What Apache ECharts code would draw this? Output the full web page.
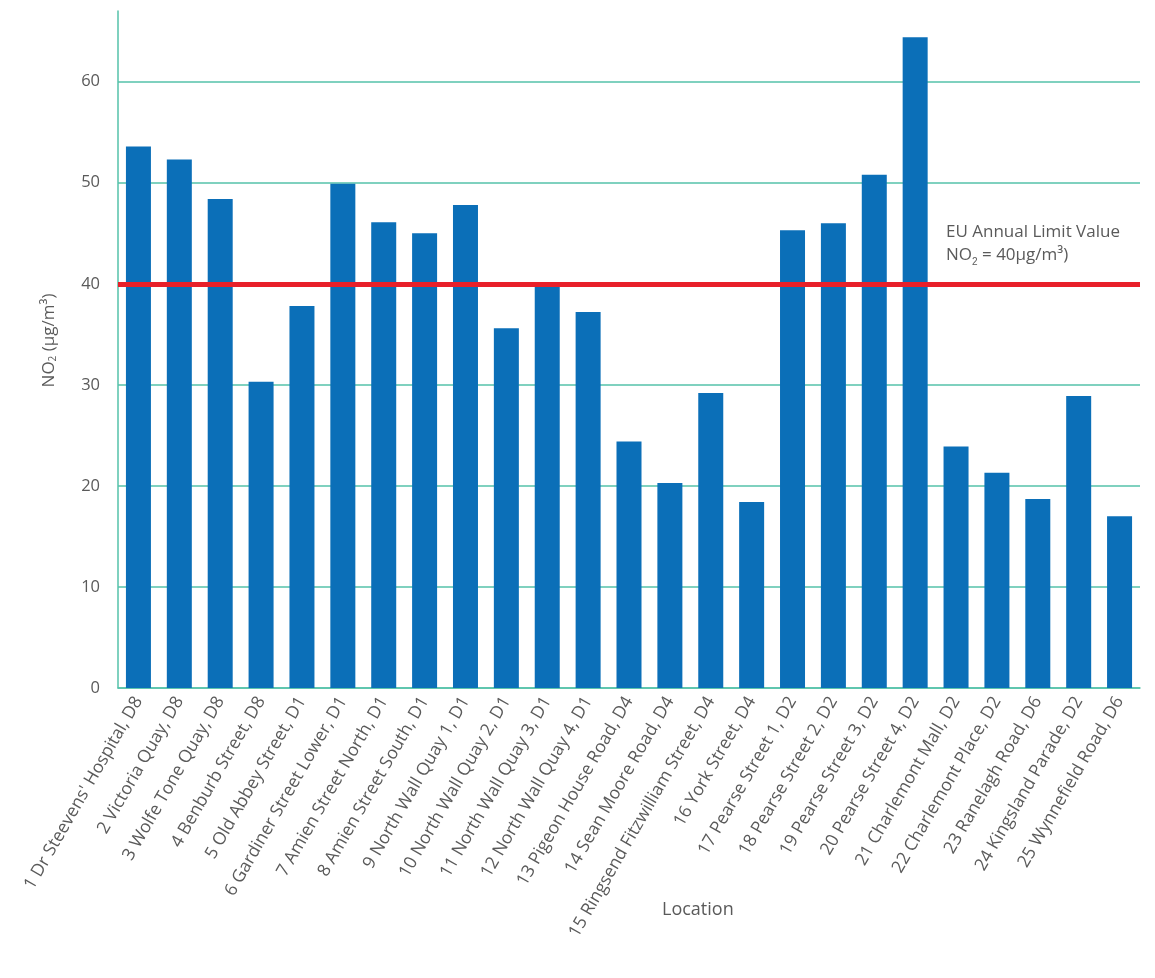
<!DOCTYPE html>
<html>
<head>
<meta charset="utf-8">
<script src="https://cdn.jsdelivr.net/npm/echarts@6/dist/echarts.min.js"></script>
<style>
html,body{margin:0;padding:0;background:#fff;}
#chart{width:1155px;height:978px;}
</style>
</head>
<body>
<div id="chart"></div>
<script>
const categories = [
  "1 Dr Steevens' Hospital, D8",
  "2 Victoria Quay, D8",
  "3 Wolfe Tone Quay, D8",
  "4 Benburb Street, D8",
  "5 Old Abbey Street, D1",
  "6 Gardiner Street Lower, D1",
  "7 Amien Street North, D1",
  "8 Amien Street South, D1",
  "9 North Wall Quay 1, D1",
  "10 North Wall Quay 2, D1",
  "11 North Wall Quay 3, D1",
  "12 North Wall Quay 4, D1",
  "13 Pigeon House Road, D4",
  "14 Sean Moore Road, D4",
  "15 Ringsend Fitzwilliam Street, D4",
  "16 York Street, D4",
  "17 Pearse Street 1, D2",
  "18 Pearse Street 2, D2",
  "19 Pearse Street 3, D2",
  "20 Pearse Street 4, D2",
  "21 Charlemont Mall, D2",
  "22 Charlemont Place, D2",
  "23 Ranelagh Road, D6",
  "24 Kingsland Parade, D2",
  "25 Wynnefield Road, D6"
];
const no2Values = [53.6, 52.3, 48.4, 30.3, 37.8, 49.9, 46.1, 45.0, 47.8, 35.6, 39.7, 37.2, 24.4, 20.3, 29.2, 18.4, 45.3, 46.0, 50.8, 64.4, 23.9, 21.3, 18.7, 28.9, 17.0];
const limitValue = 40;
const yMin = 0;
const yMax = 67;
const yInterval = 10;

const TEAL = '#55c2aa';
const BLUE = '#0b6fb8';
const RED = '#e8202a';
const GREY = '#5a5a5a';
const FONT = '"Open Sans", "Noto Sans", sans-serif';

const chart = echarts.init(document.getElementById('chart'));
chart.setOption({
  backgroundColor: '#ffffff',
  animation: false,
  grid: { left: 118, right: 15, top: 11, bottom: 290 },
  xAxis: {
    type: 'category',
    data: categories,
    axisLine: { show: true, lineStyle: { color: TEAL, width: 1.5 } },
    axisTick: { show: false },
    axisLabel: {
      rotate: 60,
      interval: 0,
      margin: 10,
      color: GREY,
      fontFamily: FONT,
      fontSize: 17.5
    }
  },
  yAxis: {
    type: 'value',
    min: yMin,
    max: yMax,
    interval: yInterval,
    name: 'NO{sub|2} (µg/m³)',
    nameLocation: 'middle',
    nameGap: 60,
    nameTextStyle: {
      color: GREY, fontFamily: FONT, fontSize: 17,
      padding: [0, 0, 0, 18],
      rich: { sub: { fontSize: 10, verticalAlign: 'bottom', color: GREY, fontFamily: FONT, padding: [8, 0, 0, 0] } }
    },
    axisLine: { show: true, lineStyle: { color: TEAL, width: 1.5 } },
    axisTick: { show: false },
    axisLabel: {
      showMaxLabel: false,
      margin: 18,
      color: GREY,
      fontFamily: FONT,
      fontSize: 16.5
    },
    splitLine: { show: true, showMaxLine: false, lineStyle: { color: TEAL, width: 1.5 } }
  },
  series: [{
    type: 'bar',
    data: no2Values,
    barWidth: 25,
    itemStyle: { color: BLUE },
    markLine: {
      silent: true,
      symbol: 'none',
      label: { show: false },
      lineStyle: { color: RED, width: 5, type: 'solid' },
      data: [{ yAxis: limitValue }]
    }
  }],
  graphic: [
    {
      type: 'text',
      left: 946,
      top: 221,
      style: {
        text: 'EU Annual Limit Value\nNO{sub|2} = 40µg/m³)',
        fill: GREY,
        font: '17px ' + FONT,
        lineHeight: 23,
        rich: { sub: { fontSize: 10, fill: GREY, verticalAlign: 'bottom', padding: [9, 0, 0, 0] } }
      }
    },
    {
      type: 'text',
      left: 662,
      top: 901,
      style: { text: 'Location', fill: GREY, font: '18px ' + FONT }
    }
  ]
});
</script>
</body>
</html>
